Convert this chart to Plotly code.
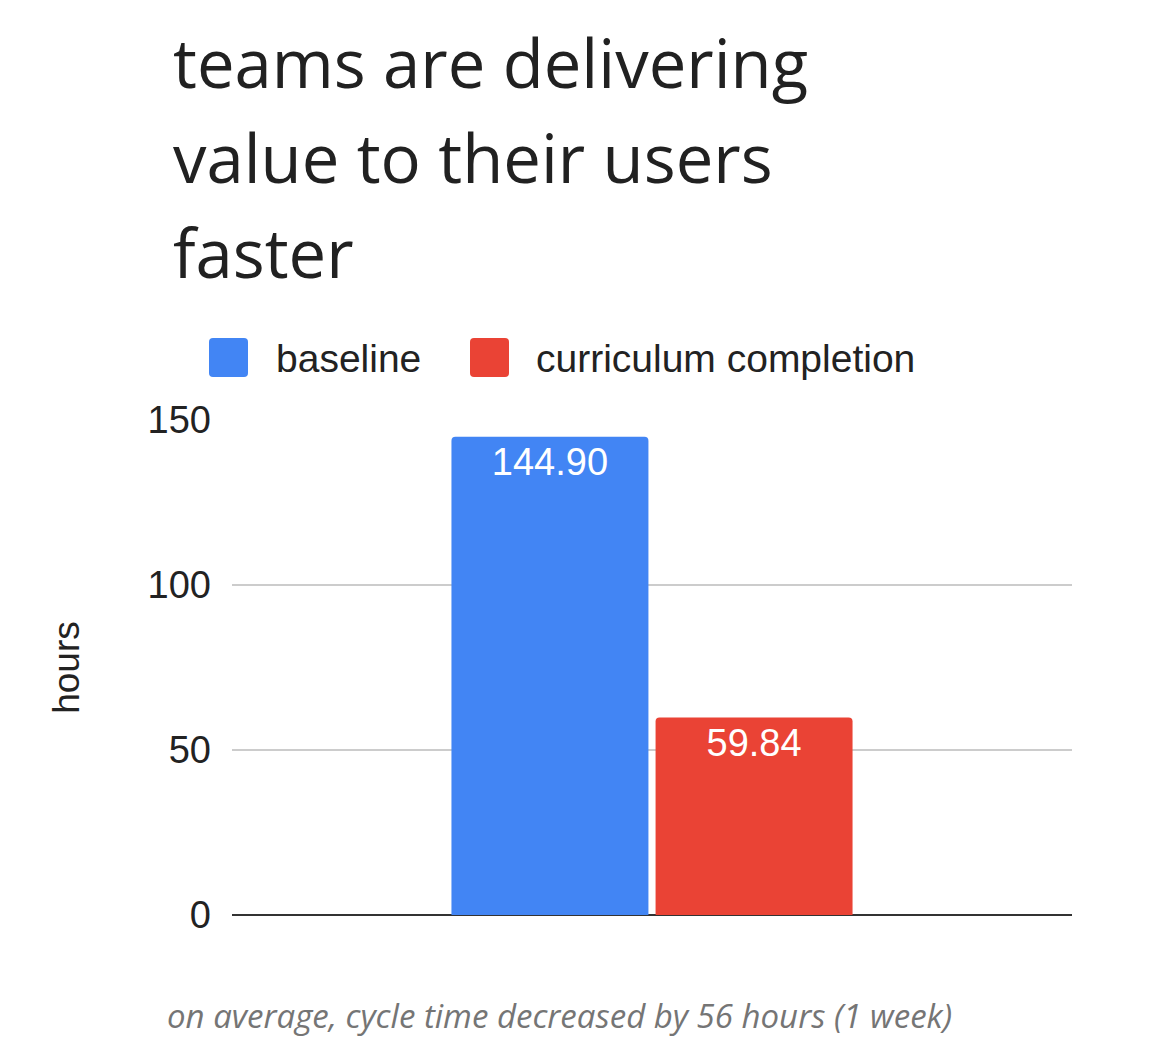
import plotly.graph_objects as go

# data
categories = ['cycle time']
series_names = ['baseline', 'curriculum completion']
series_values = [144.90, 59.84]
series_colors = ['#4285F4', '#EA4335']
y_ticks = [0, 50, 100, 150]

title_lines = ['teams are delivering', 'value to their users', 'faster']
caption = 'on average, cycle time decreased by 56 hours (1 week)'

W, H = 1156, 1050
OFF = 8  # page body margin
L, R, T, B = 224, 92, 412, 143


def px(x):
    # page pixel -> paper x
    return (x - OFF - L) / (W - L - R)


def py(y):
    return (H - B - (y - OFF)) / (H - T - B)


def rounded_rect(x0, y0, x1, y1, r):
    # page pixels -> paper-space svg path with rounded corners
    X, Y = px, py
    return (f'M{X(x0 + r)},{Y(y0)} L{X(x1 - r)},{Y(y0)} Q{X(x1)},{Y(y0)} {X(x1)},{Y(y0 + r)} '
            f'L{X(x1)},{Y(y1 - r)} Q{X(x1)},{Y(y1)} {X(x1 - r)},{Y(y1)} '
            f'L{X(x0 + r)},{Y(y1)} Q{X(x0)},{Y(y1)} {X(x0)},{Y(y1 - r)} '
            f'L{X(x0)},{Y(y0 + r)} Q{X(x0)},{Y(y0)} {X(x0 + r)},{Y(y0)} Z')


fig = go.Figure()
for name, val, col in zip(series_names, series_values, series_colors):
    fig.add_trace(go.Bar(
        x=categories, y=[val], name=name,
        marker=dict(color=col, line=dict(width=0), cornerradius=4),
        text=[f'{val:.2f}'], textposition='inside', insidetextanchor='end',
        textangle=0,
        insidetextfont=dict(color='white', size=38, family='Liberation Sans, Arial'),
        showlegend=False,
    ))

shapes = []
annotations = []

# title lines
for i, line in enumerate(title_lines):
    annotations.append(dict(
        text=line, xref='paper', yref='paper', x=px(171), y=py(62 + 95 * i),
        xanchor='left', yanchor='middle', showarrow=False,
        font=dict(family='Open Sans', size=67, color='#212121'),
    ))

# legend drawn by hand (bigger swatches than plotly allows)
legend_pos = [(209, 274), (470, 534)]
for (sx, tx), name, col in zip(legend_pos, series_names, series_colors):
    shapes.append(dict(
        type='path', xref='paper', yref='paper',
        path=rounded_rect(sx, 338, sx + 39, 377, 4),
        fillcolor=col, line=dict(width=0), layer='above',
    ))
    annotations.append(dict(
        text=name, xref='paper', yref='paper', x=px(tx), y=py(358),
        xanchor='left', yanchor='middle', showarrow=False,
        font=dict(family='Liberation Sans, Arial', size=39, color='#222222'),
    ))

# caption
annotations.append(dict(
    text=f'<i>{caption}</i>', xref='paper', yref='paper', x=px(165), y=py(1015),
    xanchor='left', yanchor='middle', showarrow=False,
    font=dict(family='Open Sans', size=33, color='#757575'),
))

fig.update_layout(
    width=W, height=H,
    margin=dict(l=L, r=R, t=T, b=B),
    paper_bgcolor='white', plot_bgcolor='white',
    barmode='group', bargap=0.514, bargroupgap=0.035,
    shapes=shapes, annotations=annotations,
    xaxis=dict(showticklabels=False, showgrid=False, zeroline=False, ticks=''),
    yaxis=dict(
        range=[0, 150], tickvals=y_ticks, ticks='', ticklabelstandoff=20,
        showgrid=True, gridcolor='#cccccc', gridwidth=2,
        zeroline=True, zerolinecolor='#333333', zerolinewidth=2,
        tickfont=dict(family='Liberation Sans, Arial', size=38, color='#222222'),
        title=dict(text='hours', standoff=56,
                   font=dict(family='Liberation Sans, Arial', size=37, color='#222222')),
    ),
)

fig.write_html('out.html')
